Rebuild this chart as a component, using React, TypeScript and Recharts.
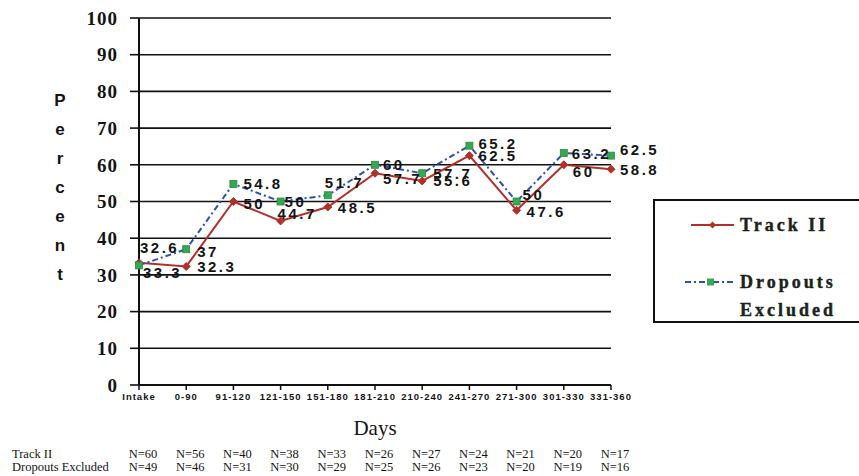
import React from 'react';
import { LineChart, Line, XAxis, YAxis, CartesianGrid, Legend, Label } from 'recharts';

const categories = ['Intake', '0-90', '91-120', '121-150', '151-180', '181-210', '210-240', '241-270', '271-300', '301-330', '331-360'];
const trackII = [33.3, 32.3, 50, 44.7, 48.5, 57.7, 55.6, 62.5, 47.6, 60, 58.8];
const dropoutsExcluded = [32.6, 37, 54.8, 50, 51.7, 60, 57.7, 65.2, 50, 63.2, 62.5];
const trackIIN = ['N=60', 'N=56', 'N=40', 'N=38', 'N=33', 'N=26', 'N=27', 'N=24', 'N=21', 'N=20', 'N=17'];
const dropoutsN = ['N=49', 'N=46', 'N=31', 'N=30', 'N=29', 'N=25', 'N=26', 'N=23', 'N=20', 'N=19', 'N=16'];
const yTicks = [0, 10, 20, 30, 40, 50, 60, 70, 80, 90, 100];
const rowHeaders = ['Track II', 'Dropouts Excluded'];
const yLetters = ['P', 'e', 'r', 'c', 'e', 'n', 't'];

// label placement offsets (style only)
const trackLabelDx = [4, 11, 10, -3, 10, 8, 11, 9, 10, 9, 9];
const trackLabelDy = [10, 0, 2, -7, 0, 5, 0, 0, 1, 7, 0];
const dropLabelDx = [1, 11, 10, 4, -3, 8, 11, 9, 6, 8, 9];
const dropLabelDy = [-18, 2, 0, 0, -13, 0, 0, -2, -7, 0, -6];

const data = categories.map((c, i) => ({ day: c, track: trackII[i], drop: dropoutsExcluded[i] }));

const RED = '#b3302a';
const BLUE = '#2f4fb5';
const GREEN = '#35a852';
const INK = '#141414';

const labelFont = { fontFamily: '"Liberation Sans", Arial, sans-serif', fontWeight: 700, fontSize: 15, letterSpacing: 2.5, fill: INK } as const;

const makeLabel = (dxArr: number[], dyArr: number[]) => (props: any) => {
  const { x, y, value, index } = props;
  return (
    <text x={x + dxArr[index]} y={y + dyArr[index]} dominantBaseline="central" textAnchor="start" style={labelFont}>
      {value}
    </text>
  );
};

const Diamond = (props: any) => {
  const { cx, cy, index } = props;
  if (cx == null || cy == null) return null;
  const s = 4;
  return <path key={`d${index}`} d={`M${cx},${cy - s}L${cx + s},${cy}L${cx},${cy + s}L${cx - s},${cy}Z`} fill={RED} stroke={RED} strokeWidth={1} />;
};

const Square = (props: any) => {
  const { cx, cy, index } = props;
  if (cx == null || cy == null) return null;
  return <rect key={`s${index}`} x={cx - 3.5} y={cy - 3.5} width={7} height={7} fill={GREEN} stroke="#2a8a40" strokeWidth={0.8} />;
};

const XTick = (props: any) => {
  const { x, y, payload } = props;
  const i = payload.index;
  return (
    <g>
      <text x={x} y={y + 4} textAnchor="middle" dominantBaseline="central"
        style={{ fontFamily: '"Liberation Sans", Arial, sans-serif', fontWeight: 700, fontSize: 9.5, letterSpacing: 1, fill: INK }}>
        {payload.value}
      </text>
      <text x={x + 4} y={y + 62} textAnchor="middle" dominantBaseline="central"
        style={{ fontFamily: '"Liberation Serif", "Times New Roman", serif', fontSize: 12.5, fill: INK }}>
        {trackIIN[i]}
      </text>
      <text x={x + 4} y={y + 75} textAnchor="middle" dominantBaseline="central"
        style={{ fontFamily: '"Liberation Serif", "Times New Roman", serif', fontSize: 12.5, fill: INK }}>
        {dropoutsN[i]}
      </text>
    </g>
  );
};

const BottomLabel = (props: any) => {
  const vb = props.viewBox || {};
  const cx = vb.x + vb.width / 2;
  return (
    <g>
      <text x={cx} y={428} textAnchor="middle" dominantBaseline="central"
        style={{ fontFamily: '"Liberation Serif", "Times New Roman", serif', fontSize: 21, fill: INK }}>
        Days
      </text>
      {rowHeaders.map((h, i) => (
        <text key={h} x={12} y={454 + i * 13} textAnchor="start" dominantBaseline="central"
          style={{ fontFamily: '"Liberation Serif", "Times New Roman", serif', fontSize: 12.5, fill: INK }}>
          {h}
        </text>
      ))}
    </g>
  );
};

const PercentLabel = () => (
  <g>
    {yLetters.map((ch, i) => (
      <text key={i} x={60} y={100 + i * 29} textAnchor="middle" dominantBaseline="central"
        style={{ fontFamily: '"Liberation Sans", Arial, sans-serif', fontWeight: 700, fontSize: 17, fill: INK }}>
        {ch}
      </text>
    ))}
  </g>
);

const legendText = { fontFamily: '"Liberation Serif", "Times New Roman", serif', fontWeight: 700, fontSize: 18, letterSpacing: 3, fill: '#1b231b', stroke: '#1b231b', strokeWidth: 0.4 } as const;

const LegendContent = () => (
  <svg width={206} height={124} style={{ display: 'block' }}>
    <line x1={36} y1={24} x2={79} y2={24} stroke={RED} strokeWidth={2} />
    <path d="M57.5,20.5L61,24L57.5,27.5L54,24Z" fill={RED} />
    <text x={85} y={24} dominantBaseline="central" style={legendText}>Track II</text>
    <line x1={30} y1={81} x2={81} y2={81} stroke={BLUE} strokeWidth={2} strokeDasharray="6 3 2 3" />
    <rect x={52} y={77.5} width={7} height={7} fill={GREEN} />
    <text x={85} y={81} dominantBaseline="central" style={legendText}>Dropouts</text>
    <text x={85} y={109} dominantBaseline="central" style={legendText}>Excluded</text>
  </svg>
);

export default function App() {
  return (
    <div style={{ position: 'absolute', left: 0, top: 0, width: 859, height: 476, background: '#fff', overflow: 'hidden' }}>
      <LineChart width={859} height={476} data={data} margin={{ top: 18, right: 248, bottom: 0, left: 0 }}>
        <CartesianGrid vertical={false} stroke="#111" strokeWidth={1.6} />
        <XAxis dataKey="day" height={91} tickSize={5} tickLine={{ stroke: '#111', strokeWidth: 1.5 }}
          axisLine={{ stroke: '#111', strokeWidth: 2 }} tick={<XTick />} interval={0}>
          <Label content={<BottomLabel />} />
        </XAxis>
        <YAxis domain={[0, 100]} ticks={yTicks} width={139} tickSize={9} tickMargin={12} interval={0}
          tickLine={{ stroke: '#111', strokeWidth: 1.6 }} axisLine={{ stroke: '#111', strokeWidth: 2 }}
          tick={{ fontFamily: '"Liberation Serif", "Times New Roman", serif', fontWeight: 700, fontSize: 19, letterSpacing: 1, fill: INK }}>
          <Label content={<PercentLabel />} />
        </YAxis>
        <Legend layout="vertical" align="center" verticalAlign="middle" content={<LegendContent />}
          wrapperStyle={{ position: 'absolute', left: 653, top: 199, width: 206, height: 124, border: '2px solid #111', borderRight: 'none', boxSizing: 'border-box', background: '#fff' }} />
        <Line type="linear" dataKey="track" name="Track II" stroke={RED} strokeWidth={2} dot={Diamond}
          label={makeLabel(trackLabelDx, trackLabelDy)} isAnimationActive={false} />
        <Line type="linear" dataKey="drop" name="Dropouts Excluded" stroke={BLUE} strokeWidth={2} strokeDasharray="6 3 2 3"
          dot={Square} label={makeLabel(dropLabelDx, dropLabelDy)} isAnimationActive={false} />
      </LineChart>
    </div>
  );
}
